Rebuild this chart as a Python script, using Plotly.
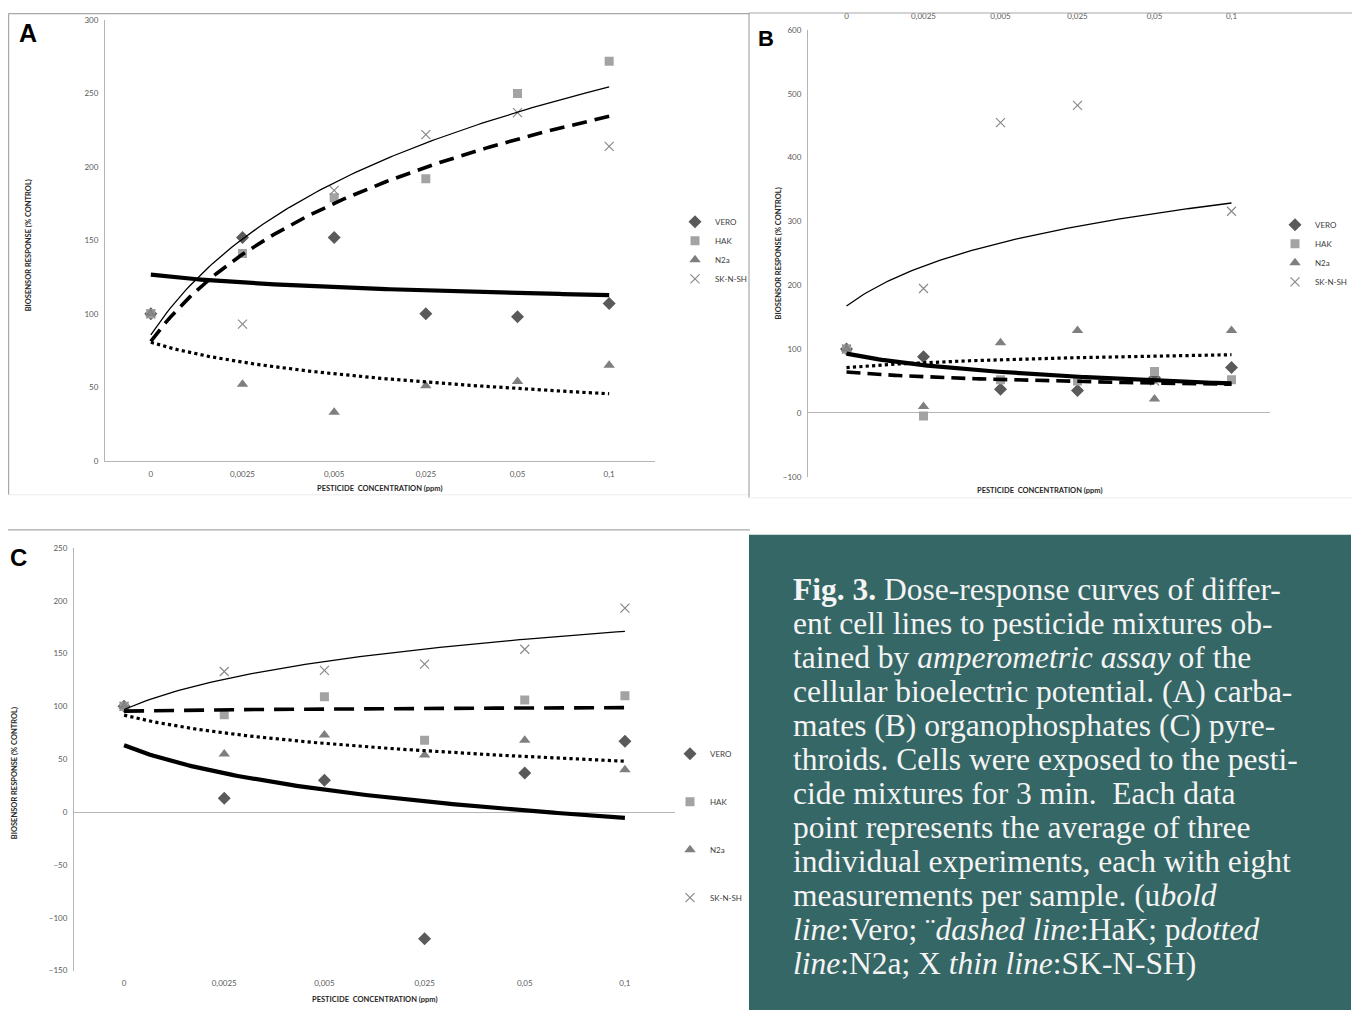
import numpy as np
import plotly.graph_objects as go

# The page body has an 8 px margin, so every page position is shifted by it.
W, H, BODY_MARGIN = 1360, 1010, 8
# small vertical calibration of the photographed page (measured on earlier runs)
Y_SCALE, Y_SHIFT = 0.9885, 5.1

# ---------------- data ----------------
concentrations = ["0", "0,0025", "0,005", "0,025", "0,05", "0,1"]
cell_lines = ["VERO", "HAK", "N2a", "SK-N-SH"]

# Panel A: carbamates
a_vero = [100, 152, 152, 100, 98, 107]
a_hak = [100, 141, 179, 192, 250, 272]
a_n2a = [100, 52, 33, 51, 54, 65]
a_sknsh = [100, 93, 184, 222, 237, 214]

# Panel B: organophosphates
b_vero = [100, 88, 37, 35, 55, 71]
b_hak = [100, -5, 52, 50, 65, 52]
b_n2a = [100, 10, 110, 129, 22, 129]
b_sknsh = [100, 195, 455, 482, 50, 316]

# Panel C: pyrethroids
c_vero = [100, 13, 30, -120, 37, 67]
c_hak = [100, 92, 109, 68, 106, 110]
c_n2a = [100, 55, 73, 54, 68, 40]
c_sknsh = [100, 133, 134, 140, 154, 193]

caption_lines = [
    "<b>Fig. 3.</b> Dose-response curves of differ-",
    "ent cell lines to pesticide mixtures ob-",
    "tained by <i>amperometric assay</i> of the",
    "cellular bioelectric potential. (A) carba-",
    "mates (B) organophosphates (C) pyre-",
    "throids. Cells were exposed to the pesti-",
    "cide mixtures for 3 min.  Each data",
    "point represents the average of three",
    "individual experiments, each with eight",
    "measurements per sample. (u<i>bold</i>",
    "<i>line</i>:Vero; \u00a8<i>dashed line</i>:HaK; p<i>dotted</i>",
    "<i>line</i>:N2a; X <i>thin line</i>:SK-N-SH)",
]

# ---------------- helpers (target pixel -> paper fraction) ----------------
def px(x):
    return (x - BODY_MARGIN) / W


def py(y):
    page = (y - Y_SHIFT) / Y_SCALE
    return min(1.0, max(0.0, 1 - (page - BODY_MARGIN) / H))


marker_styles = {
    "VERO": dict(symbol="diamond", size=10, color="#5a5a5a"),
    "HAK": dict(symbol="square", size=9, color="#a3a3a3"),
    "N2a": dict(symbol="triangle-up", size=10, color="#7f7f7f"),
    "SK-N-SH": dict(symbol="x-thin", size=9, color="#8a8a8a",
                    line=dict(color="#8a8a8a", width=1.2)),
}

line_styles = {
    "bold": dict(color="black", width=4.2),
    "dashed": dict(color="black", width=3.6, dash="15px,8px"),
    "dotted": dict(color="black", width=3.2, dash="dot"),
    "thin": dict(color="black", width=1.3),
}

panels = [
    dict(key="A", xa="x", ya="y", legend="legend", dash="15px,8px",
         data={"VERO": a_vero, "HAK": a_hak, "N2a": a_n2a, "SK-N-SH": a_sknsh},
         trend={"bold": "VERO", "dashed": "SK-N-SH", "dotted": "N2a", "thin": "HAK"}),
    dict(key="B", xa="x2", ya="y2", legend="legend2", dash="14px,7px",
         data={"VERO": b_vero, "HAK": b_hak, "N2a": b_n2a, "SK-N-SH": b_sknsh},
         trend={"bold": "VERO", "dashed": "HAK", "dotted": "N2a", "thin": "SK-N-SH"}),
    dict(key="C", xa="x3", ya="y3", legend="legend3", dash="20px,10px",
         data={"VERO": c_vero, "HAK": c_hak, "N2a": c_n2a, "SK-N-SH": c_sknsh},
         trend={"bold": "VERO", "dashed": "HAK", "dotted": "N2a", "thin": "SK-N-SH"}),
]

fig = go.Figure()
idx = np.arange(len(concentrations))
t = np.linspace(0, len(concentrations) - 1, 120)

for p in panels:
    for name in cell_lines:
        fig.add_trace(go.Scatter(
            x=idx, y=p["data"][name], mode="markers", name=name,
            marker=marker_styles[name], xaxis=p["xa"], yaxis=p["ya"],
            legend=p["legend"], legendgroup=p["key"] + name, showlegend=True,
        ))
    # logarithmic trendlines (least-squares fit, as in the original spreadsheet)
    for style in ["thin", "dotted", "dashed", "bold"]:
        series = p["trend"][style]
        slope, icpt = np.polyfit(np.log(idx + 1), np.array(p["data"][series], float), 1)
        ls = dict(line_styles[style])
        if style == "dashed":
            ls["dash"] = p["dash"]
        fig.add_trace(go.Scatter(
            x=t, y=slope * np.log(t + 1) + icpt, mode="lines",
            line=ls, xaxis=p["xa"], yaxis=p["ya"],
            showlegend=False, hoverinfo="skip",
        ))

tickfont = dict(family="Lato, Open Sans, sans-serif", size=8, color="#595959")
axis_gray = "#b5b5b5"

common_x = dict(range=[-0.5, 5.5], tickmode="array", tickvals=list(idx),
                ticktext=concentrations, showgrid=False, zeroline=False,
                tickfont=tickfont, ticks="outside", ticklen=6,
                tickcolor="rgba(0,0,0,0)", fixedrange=True)
common_y = dict(showgrid=False, tickfont=tickfont, showline=True,
                linecolor=axis_gray, linewidth=1, ticks="outside", ticklen=4,
                tickcolor="rgba(0,0,0,0)", zerolinecolor=axis_gray,
                zerolinewidth=1, fixedrange=True)

fig.update_layout(
    width=W, height=H, margin=dict(l=0, r=0, t=0, b=0),
    paper_bgcolor="white", plot_bgcolor="rgba(0,0,0,0)",
    xaxis=dict(common_x, domain=[px(105), px(655)], anchor="y",
               showline=True, linecolor=axis_gray),
    yaxis=dict(common_y, domain=[py(460), py(20)], range=[0, 300], dtick=50,
               anchor="x", zeroline=False),
    xaxis2=dict(common_x, domain=[px(808), px(1270)], anchor="y2", side="top",
                showline=False, ticklen=7),
    yaxis2=dict(common_y, domain=[py(476), py(30)], range=[-100, 600], dtick=100,
                anchor="x2", zeroline=True),
    xaxis3=dict(common_x, domain=[px(74), px(675)], anchor="y3", showline=False,
                ticklen=5),
    yaxis3=dict(common_y, domain=[py(969), py(547)], range=[-150, 250], dtick=50,
                anchor="x3", zeroline=True),
)

legend_common = dict(font=dict(family="Lato, Open Sans, sans-serif", size=8, color="#404040"),
                     bgcolor="rgba(0,0,0,0)", itemwidth=30, xanchor="left",
                     yanchor="top", traceorder="grouped")
fig.update_layout(
    legend=dict(legend_common, x=px(675), y=py(207), tracegroupgap=0),
    legend2=dict(legend_common, x=px(1275), y=py(210), tracegroupgap=0),
    legend3=dict(legend_common, x=px(670), y=py(738), tracegroupgap=29),
)

annotations = []
title_font = dict(family="Lato, Open Sans, sans-serif", size=7.5, color="#262626")
# panel letters
for letter, x, y, s in [("A", 28, 33, 25), ("B", 766, 38, 22), ("C", 18, 557, 24)]:
    annotations.append(dict(text=f"<b>{letter}</b>", x=px(x), y=py(y), xref="paper",
                            yref="paper", showarrow=False, xanchor="center", yanchor="middle",
                            font=dict(family="Liberation Sans, Arial", size=s, color="black")))
# axis titles
for x, y in [(380, 488), (1040, 490), (375, 998)]:
    annotations.append(dict(text="<b>PESTICIDE  CONCENTRATION (ppm)</b>", x=px(x), y=py(y),
                            xref="paper", yref="paper", showarrow=False,
                            xanchor="center", yanchor="middle", font=title_font))
for x, y in [(28, 245), (778, 253), (14, 772)]:
    annotations.append(dict(text="<b>BIOSENSOR RESPONSE (% CONTROL)</b>", x=px(x), y=py(y),
                            xref="paper", yref="paper", showarrow=False, textangle=-90,
                            xanchor="center", yanchor="middle", font=title_font))
# caption
for i, line in enumerate(caption_lines):
    annotations.append(dict(text=line, x=px(791), y=py(589 + 33.9 * i), xref="paper",
                            yref="paper", showarrow=False, xanchor="left", yanchor="middle",
                            align="left",
                            font=dict(family="Liberation Serif, Times New Roman, serif",
                                      size=31.5, color="#f4f4f4")))
fig.update_layout(annotations=annotations)

top_edge = 1 - 0.6 / H
shapes = [
    dict(type="rect", x0=px(749), x1=px(1351), y0=0, y1=py(534),
         fillcolor="#346765", line=dict(width=0), layer="below"),
    dict(type="line", x0=px(8.6), x1=px(750), y0=top_edge, y1=top_edge, line=dict(color="#a8a8a8", width=1.2)),
    dict(type="line", x0=px(8.6), x1=px(8.6), y0=top_edge, y1=py(494), line=dict(color="#a8a8a8", width=1.2)),
    dict(type="line", x0=px(8.6), x1=px(750), y0=py(494), y1=py(494), line=dict(color="#ececec", width=1)),
    dict(type="line", x0=px(749), x1=px(1360), y0=py(13), y1=py(13), line=dict(color="#a8a8a8", width=1.2)),
    dict(type="line", x0=px(749), x1=px(749), y0=py(13), y1=py(497), line=dict(color="#a8a8a8", width=1.2)),
    dict(type="line", x0=px(749), x1=px(1360), y0=py(497), y1=py(497), line=dict(color="#ececec", width=1)),
    dict(type="line", x0=px(8), x1=px(750), y0=py(529), y1=py(529), line=dict(color="#a8a8a8", width=1.2)),
]
for s in shapes:
    s.setdefault("xref", "paper")
    s.setdefault("yref", "paper")
fig.update_layout(shapes=shapes)

fig.write_html("out.html")
